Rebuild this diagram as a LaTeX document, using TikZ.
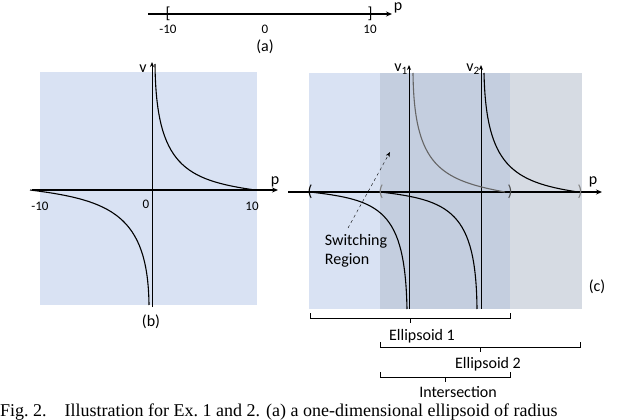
\documentclass[tikz,border=0pt]{standalone}
\usepackage{fontspec}
\setmainfont{Carlito}
\newfontfamily\capfont{Liberation Serif}
\usetikzlibrary{arrows.meta}
\definecolor{eone}{RGB}{217,226,243}
\definecolor{etwo}{RGB}{214,219,227}
\definecolor{eint}{RGB}{196,206,223}
\tikzset{
  axis/.style={line width=1.2pt,-{Stealth[length=6pt,width=5pt]}},
  vaxis/.style={line width=0.9pt,-{Stealth[length=5pt,width=4pt]}},
  curve/.style={line width=1.1pt},
  lbl/.style={font=\fontsize{16}{19}\selectfont,inner sep=0pt},
  small/.style={font=\fontsize{13}{15}\selectfont,inner sep=0pt},
  brace/.style={line width=0.6pt}
}
\begin{document}
\begin{tikzpicture}[x=1pt,y=-1pt]
\useasboundingbox (0,0) rectangle (640,420);
% (a)
\coordinate (a1) at (148,14); \coordinate (a2) at (392,14);
\draw[axis] (a1) -- (a2);
\node[lbl] (ap) at (398,8) {p};
\node[lbl] (ab1) at (168,14) {[};
\node[lbl] (ab2) at (370,14) {]};
\node[small] (am) at (168,29) {-10};
\node[small] (a0) at (265,29) {0};
\node[small] (ap10) at (370,29) {10};
\node[lbl] (alab) at (265,47) {(a)};
% (b)
\fill[eone] (40,72) rectangle (257,305);
\coordinate (bx1) at (32,190); \coordinate (bx2) at (278,190);
\draw[axis] (bx1) -- (bx2);
\coordinate (by1) at (152,307); \coordinate (by2) at (152,62);
\draw[vaxis] (by1) -- (by2);
\draw[curve] (155,64) .. controls (156,165) and (185,180) .. (255,190);
\draw[curve] (30,190) .. controls (110,200) and (148,215) .. (149,305);
\node[lbl] (bv) at (143,69) {v};
\node[lbl] (bp) at (275,182) {p};
\node[small] (bm) at (40,206) {-10};
\node[small] (b0) at (146,204) {0};
\node[small] (b10) at (252,206) {10};
\node[lbl] (blab) at (151,322) {(b)};
% (c)
\fill[eone] (309,73) rectangle (510,309);
\fill[etwo] (510,73) rectangle (582,309);
\fill[eint] (380,73) rectangle (510,309);
\coordinate (cx1) at (288,192); \coordinate (cx2) at (602,192);
\draw[axis] (cx1) -- (cx2);
\coordinate (cv1a) at (409,309); \coordinate (cv1b) at (409,65);
\coordinate (cv2a) at (481,309); \coordinate (cv2b) at (481,65);
\draw[vaxis] (cv1a) -- (cv1b);
\draw[vaxis] (cv2a) -- (cv2b);
\node[lbl] (v1) at (401,69) {v\textsubscript{1}};
\node[lbl] (v2) at (473,69) {v\textsubscript{2}};
\node[lbl] (cp) at (593,182) {p};
\draw[curve,gray!80!black] (413,73) .. controls (414,165) and (440,180) .. (505,192);
\draw[curve] (310,192) .. controls (380,200) and (405,210) .. (407,309);
\draw[curve] (484,73) .. controls (486,165) and (512,182) .. (578,192);
\draw[curve] (380,192) .. controls (450,200) and (476,212) .. (477,309);
\node[lbl] (cb1) at (310,192) {(};
\node[lbl,gray] (cb2) at (381,192) {(};
\node[lbl,gray!60!black] (cb3) at (510,192) {)};
\node[lbl,gray] (cb4) at (580,192) {)};
\node[lbl,align=left] (sw) at (356,251) {Switching\\Region};
\coordinate (swt) at (390,152);
\draw[dashed,-{Stealth[length=5pt,width=4pt]}] (348,228) -- (swt);
\node[lbl] (clab) at (597,287) {(c)};
% braces
\draw[brace] (310,313) -- (310,318) -- (510,318) -- (510,313);
\draw[brace] (410,318) -- (410,323);
\node[lbl] (e1) at (422,336) {Ellipsoid 1};
\draw[brace] (380,342) -- (380,347) -- (580,347) -- (580,342);
\draw[brace] (480,347) -- (480,352);
\node[lbl] (e2) at (488,364) {Ellipsoid 2};
\draw[brace] (380,372) -- (380,377) -- (510,377) -- (510,372);
\draw[brace] (445,377) -- (445,382);
\node[lbl] (ei) at (458,392) {Intersection};
% caption
\node[anchor=west,inner sep=0pt,font=\capfont\fontsize{18}{21}\selectfont] (cap) at (0,412) {Fig.~2.\quad Illustration for Ex.~1 and 2. (a) a one-dimensional ellipsoid of radius};
\end{tikzpicture}
\end{document}
